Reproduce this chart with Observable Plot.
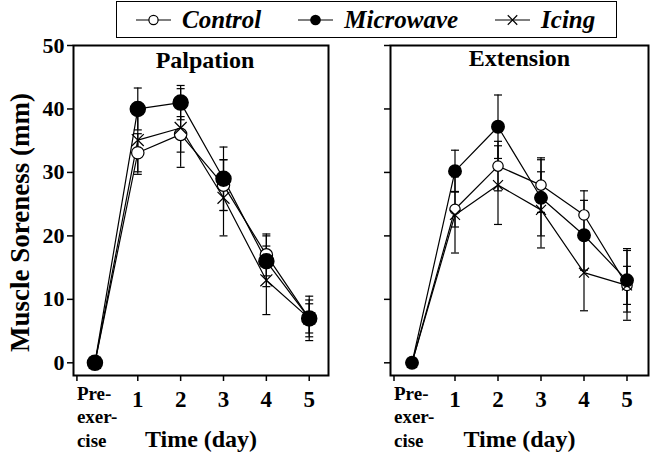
<!DOCTYPE html>
<html><head><meta charset="utf-8">
<script src="https://cdn.jsdelivr.net/npm/d3@7"></script>
<script src="https://cdn.jsdelivr.net/npm/@observablehq/plot@0.6"></script>
<style>
html,body{margin:0;padding:0;background:#fff;}
#wrap{position:relative;width:650px;height:454px;overflow:hidden;font-family:"Liberation Serif","Times New Roman",serif;}
#legend{position:absolute;left:116px;top:1px;width:501px;height:37px;border:1.5px solid #000;display:flex;align-items:center;padding-left:19px;box-sizing:border-box;}
.item{display:flex;align-items:center;font-weight:bold;font-style:italic;font-size:25px;margin-right:37px;line-height:1;}
.item svg{margin-right:11px;display:block;}
.panel{position:absolute;top:0;}
#wrap svg text{font-weight:bold;}
</style></head><body>
<div id="wrap">
  <div id="legend"></div>
  <div id="left" class="panel" style="left:0px"></div>
  <div id="right" class="panel" style="left:330px"></div>
</div>
<script>
// ---- data ----
const days = [0, 1, 2, 3, 4, 5];
const dayLabels = ["Pre-\nexer-\ncise", "1", "2", "3", "4", "5"];
const seriesNames = ["Control", "Microwave", "Icing"];
const yTicks = [0, 10, 20, 30, 40, 50];
const panelTitles = ["Palpation", "Extension"];

const palpControl = [0, 33.1, 36, 28, 17, 7];
const palpControlErr = [0, 3, 2.8, 4, 3.3, 2.9];
const palpMicrowave = [0, 40, 41, 29, 16, 7];
const palpMicrowaveErr = [0, 3.3, 2.7, 5, 4, 3.5];
const palpIcing = [0, 35.1, 37, 26, 13, 7];
const palpIcingErr = [0, 5.4, 6.2, 6, 5.4, 2.3];

const extControl = [0, 24.2, 31, 28, 23.3, 12.2];
const extControlErr = [0, 2.8, 3.9, 4.3, 3.8, 5.5];
const extMicrowave = [0, 30.2, 37.2, 26, 20.1, 13];
const extMicrowaveErr = [0, 3.3, 5, 6, 5.5, 5];
const extIcing = [0, 23.3, 28, 24.1, 14.2, 12.2];
const extIcingErr = [0, 6, 6.2, 6, 6, 3];

function rows(vals, errs) {
  const out = [];
  seriesNames.forEach((s, i) => {
    days.forEach((d, j) => out.push({series: s, day: d, value: vals[i][j], err: errs[i][j]}));
  });
  return out;
}
const palpRows = rows([palpControl, palpMicrowave, palpIcing], [palpControlErr, palpMicrowaveErr, palpIcingErr]);
const extRows = rows([extControl, extMicrowave, extIcing], [extControlErr, extMicrowaveErr, extIcingErr]);

const capSymbol = {
  draw(context, size) {
    const w = Math.sqrt(size / Math.PI);
    context.moveTo(-w, 0);
    context.lineTo(w, 0);
  }
};

function panel(data, title, opts) {
  const bars = data.filter(d => d.err > 0);
  const caps = bars.flatMap(d => [{day: d.day, y: d.value - d.err}, {day: d.day, y: d.value + d.err}]);
  const fmt = d => dayLabels[days.indexOf(d)];
  return Plot.plot({
    width: opts.width, height: 454,
    marginTop: 45, marginBottom: 79, marginLeft: opts.ml, marginRight: opts.mr,
    x: {domain: opts.xd},
    y: {domain: [-2, 50]},
    style: {fontFamily: "Liberation Serif, Times New Roman, serif", color: "#000", background: "none", overflow: "visible"},
    marks: [
      Plot.frame({stroke: "#000", strokeWidth: 2}),
      Plot.axisY({ticks: yTicks, tickSize: 6, tickPadding: 3, strokeWidth: 1.5, fontSize: 22, fontWeight: "bold",
        tickFormat: opts.yLabels ? d => String(d) : () => "", label: null}),
      Plot.axisX({ticks: days.slice(1), tickSize: 6, tickPadding: 9, strokeWidth: 1.5, fontSize: 23, fontWeight: "bold",
        tickFormat: fmt, label: null}),
      Plot.axisX({ticks: days.slice(0, 1), tickSize: 6, tickPadding: 1, strokeWidth: 1.5, fontSize: 19, fontWeight: "bold",
        tickFormat: fmt, textAnchor: "start", dx: -18, lineHeight: 1.26, label: null}),
      Plot.text([title], {frameAnchor: "top", dy: opts.titleDy, dx: opts.titleDx, fontSize: 24, fontWeight: "bold", lineAnchor: "middle"}),
      Plot.text(["Time (day)"], {frameAnchor: "bottom", dy: 64, fontSize: 24, fontWeight: "bold", lineAnchor: "middle"}),
      ...(opts.yLabels ? [Plot.text(["Muscle Soreness (mm)"], {frameAnchor: "left", dx: -53, dy: 12, rotate: -90, fontSize: 27, fontWeight: "bold", textAnchor: "middle", lineAnchor: "middle"})] : []),
      Plot.line(data, {x: "day", y: "value", z: "series", stroke: "#000", strokeWidth: 1.2}),
      Plot.ruleX(bars, {x: "day", y1: d => d.value - d.err, y2: d => d.value + d.err, stroke: "#000", strokeWidth: 1.2}),
      Plot.dot(caps, {x: "day", y: "y", symbol: capSymbol, r: 4, stroke: "#000", strokeWidth: 1.2, fill: "none"}),
      Plot.dot(data.filter(d => d.series === "Control"), {x: "day", y: "value", r: opts.rc, fill: "#fff", stroke: "#000", strokeWidth: 1.2}),
      Plot.dot(data.filter(d => d.series === "Icing"), {x: "day", y: "value", symbol: "times", r: opts.ri, stroke: "#000", strokeWidth: 1.2}),
      Plot.dot(data.filter(d => d.series === "Microwave"), {x: "day", y: "value", r: opts.rm, fill: "#000", stroke: "#000"})
    ]
  });
}

document.getElementById("left").append(panel(palpRows, panelTitles[0], {
  width: 330, ml: 73, mr: 2, xd: [-0.5, 5.45], yLabels: true, titleDy: 15, titleDx: 4, rc: 6.2, ri: 5.5, rm: 7.5
}));
document.getElementById("right").append(panel(extRows, panelTitles[1], {
  width: 320, ml: 60, mr: 2, xd: [-0.5, 5.5], yLabels: false, titleDy: 13, titleDx: 0, rc: 5.2, ri: 4.6, rm: 6.2
}));

// ---- legend ----
const legend = d3.select("#legend");
seriesNames.forEach(name => {
  const item = legend.append("div").attr("class", "item");
  const svg = item.append("svg").attr("width", 35).attr("height", 14);
  svg.append("line").attr("x1", 0).attr("x2", 35).attr("y1", 7).attr("y2", 7).attr("stroke", "#000").attr("stroke-width", 1.2);
  if (name === "Control") svg.append("circle").attr("cx", 17.5).attr("cy", 7).attr("r", 4.6).attr("fill", "#fff").attr("stroke", "#000").attr("stroke-width", 1.2);
  if (name === "Microwave") svg.append("circle").attr("cx", 17.5).attr("cy", 7).attr("r", 5.3).attr("fill", "#000");
  if (name === "Icing") svg.append("path").attr("transform", "translate(17.5,7)").attr("d", d3.symbol(d3.symbolTimes, 60)()).attr("stroke", "#000").attr("stroke-width", 1.2).attr("fill", "none");
  item.append("span").text(name);
});
</script>
</body></html>
